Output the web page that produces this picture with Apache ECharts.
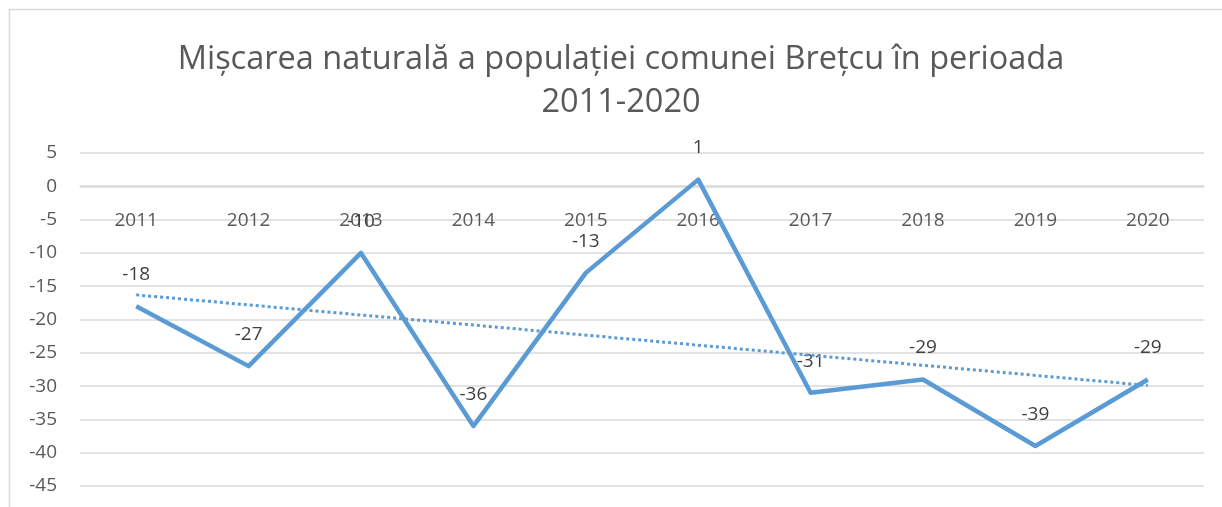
<!DOCTYPE html>
<html>
<head>
<meta charset="utf-8">
<title>Mișcarea naturală a populației comunei Brețcu</title>
<script src="https://cdn.jsdelivr.net/npm/echarts@6/dist/echarts.min.js"></script>
<style>
  html, body { margin: 0; padding: 0; background: #fff; }
  #chart { width: 1222px; height: 507px; }
</style>
</head>
<body>
<div id="chart"></div>
<script>
// values
const years = ['2011', '2012', '2013', '2014', '2015', '2016', '2017', '2018', '2019', '2020'];
const sporNatural = [-18, -27, -10, -36, -13, 1, -31, -29, -39, -29];
// dotted trend line, value at first and last year
const trendEnds = [-16.3, -29.9];

const font = '"Open Sans", sans-serif';
const blue = '#5B9BD5';

// plot box
const gridTop = 153, gridBottom = 21;
const plotH = 507 - gridTop - gridBottom;
const yMin = -45, yMax = 5;
// category axis sits on the zero line
const zeroOffset = -Math.round(plotH * (0 - yMin) / (yMax - yMin));

let chart = echarts.init(document.getElementById('chart'));

chart.setOption({
  backgroundColor: '#fff',
  animation: false,
  graphic: [{
    type: 'rect',
    z: -10,
    silent: true,
    shape: { x: 9.5, y: 9.5, width: 1400, height: 700 },
    style: { fill: 'none', stroke: '#d9d9d9', lineWidth: 1.5 }
  }],
  title: {
    text: 'Mișcarea naturală a populației comunei Brețcu în perioada\n2011-2020',
    left: 616,
    top: 33,
    textAlign: 'center',
    textStyle: {
      fontFamily: font,
      fontSize: 32.5,
      fontWeight: 'normal',
      color: '#595959',
      lineHeight: 43
    }
  },
  grid: {
    left: 80,
    right: 18,
    top: gridTop,
    bottom: gridBottom,
    containLabel: false,
    outerBoundsMode: 'none'
  },
  xAxis: {
    type: 'category',
    data: years,
    boundaryGap: true,
    position: 'bottom',
    offset: zeroOffset,
    axisLine: { show: true, onZero: false, lineStyle: { color: '#d9d9d9', width: 1.5 } },
    axisTick: { show: false },
    axisLabel: {
      margin: 25,
      fontFamily: font,
      fontSize: 19,
      color: '#595959'
    },
    splitLine: { show: false }
  },
  yAxis: {
    type: 'value',
    min: yMin,
    max: yMax,
    interval: 5,
    axisLine: { show: false },
    axisTick: { show: false },
    axisLabel: {
      margin: 23,
      fontFamily: font,
      fontSize: 19,
      color: '#595959'
    },
    splitLine: { lineStyle: { color: '#d9d9d9', width: 1.5 } }
  },
  series: [
    {
      name: 'Spor natural',
      type: 'line',
      data: sporNatural,
      symbol: 'circle',
      symbolSize: 0.1,
      itemStyle: { color: blue },
      lineStyle: { color: blue, width: 4.5, join: 'round' },
      label: {
        show: true,
        position: 'top',
        distance: 22,
        fontFamily: font,
        fontSize: 19,
        color: '#404040'
      },
      markLine: {
        silent: true,
        symbol: 'none',
        label: { show: false },
        lineStyle: { color: blue, type: 'dotted', width: 3 },
        data: [[
          { coord: [years[0], trendEnds[0]] },
          { coord: [years[years.length - 1], trendEnds[1]] }
        ]]
      }
    }
  ]
});
</script>
</body>
</html>
